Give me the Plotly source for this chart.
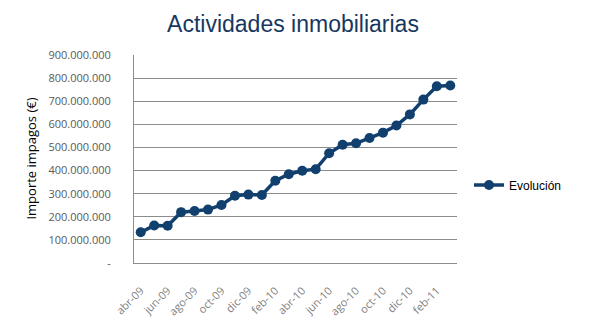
import plotly.graph_objects as go

months = ["abr-09", "may-09", "jun-09", "jul-09", "ago-09", "sep-09", "oct-09", "nov-09",
          "dic-09", "ene-10", "feb-10", "mar-10", "abr-10", "may-10", "jun-10", "jul-10",
          "ago-10", "sep-10", "oct-10", "nov-10", "dic-10", "ene-11", "feb-11", "mar-11"]
evolucion = [133e6, 162e6, 161e6, 220e6, 225e6, 231e6, 251e6, 291e6,
             296e6, 294e6, 356e6, 384e6, 399e6, 406e6, 475e6, 512e6,
             518e6, 541e6, 564e6, 595e6, 643e6, 707e6, 765e6, 768e6]
y_ticks = [0, 100e6, 200e6, 300e6, 400e6, 500e6, 600e6, 700e6, 800e6, 900e6]


def fmt_eur(v):
    if v == 0:
        return "-"
    return f"{int(v):,}".replace(",", ".")


navy = "#11406F"
grid = "#8C8C8C"

fig = go.Figure()
fig.add_trace(go.Scatter(
    x=months, y=evolucion, name="Evolución", mode="lines+markers",
    line=dict(color=navy, width=3.5),
    marker=dict(color=navy, size=10),
))

fig.update_layout(
    width=589, height=330,
    margin=dict(l=134, r=124, t=55, b=66),
    paper_bgcolor="white", plot_bgcolor="white",
    title=dict(text="Actividades inmobiliarias", x=293 / 589, xanchor="center",
               y=1 - 24 / 330, yanchor="middle",
               font=dict(family="Liberation Sans, Arial", size=23, color="#17375E")),
    showlegend=True,
    legend=dict(x=469 / 589, xanchor="left", y=1 - 185 / 330, yanchor="middle",
                xref="container", yref="container",
                font=dict(family="Liberation Sans, Arial", size=12, color="#000000"),
                bgcolor="rgba(0,0,0,0)", itemwidth=30),
    xaxis=dict(type="category", tickvals=months[::2], ticktext=months[::2],
               tickangle=-45, showgrid=False, showline=True, linecolor=grid,
               linewidth=1, ticks="", range=[-0.5, len(months) - 0.5],
               ticklabelstandoff=16,
               tickfont=dict(family="Open Sans, Liberation Sans", size=11, color="#7F7F7F")),
    yaxis=dict(range=[0, 900e6], tickvals=y_ticks, ticktext=[fmt_eur(v) for v in y_ticks],
               showgrid=True, gridcolor=grid, gridwidth=1, showline=True, linecolor=grid,
               linewidth=1, zeroline=False, ticks="", ticklen=0, ticklabelstandoff=20,
               tickfont=dict(family="Open Sans, Liberation Sans", size=11, color="#595959")),
)

fig.add_annotation(text="Importe impagos (€)", xref="paper", yref="paper",
                   x=-(134 - 28) / (589 - 134 - 124), y=0.5, textangle=-90,
                   showarrow=False, xanchor="center", yanchor="middle",
                   font=dict(family="Open Sans, Liberation Sans", size=13, color="#000000"))

fig.write_html("out.html")
